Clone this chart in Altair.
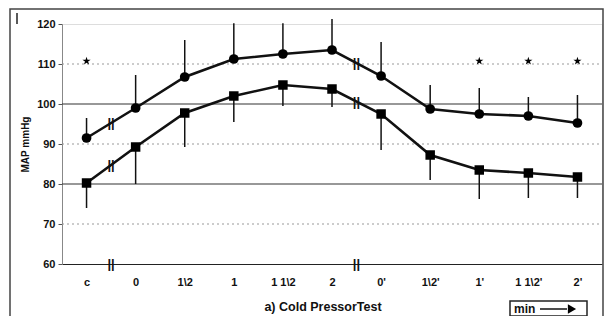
import altair as alt
import pandas as pd

cats = ["c", "0", "1\\2", "1", "1 1\\2", "2", "0'", "1\\2'", "1'", "1 1\\2'", "2'"]
map_high = [91.5, 99, 106.75, 111.25, 112.5, 113.5, 107, 98.75, 97.5, 97, 95.25]
high_err_top = [96.5, 107.25, 116, 120.2, 120.2, 121.25, 115.5, 104.75, 104, 101.75, 102.25]
map_low = [80.25, 89.25, 97.75, 102, 104.75, 103.75, 97.5, 87.25, 83.5, 82.75, 81.75]
low_err_bottom = [74, 80, 89.25, 95.5, 99.5, 99.25, 88.5, 81, 76.25, 76.5, 76.5]
star_cats = ["c", "1'", "1 1\\2'", "2'"]
star_val = [110.75, 110.75, 110.75, 110.75]
y_ticks = [60, 70, 80, 90, 100, 110, 120]
grid_light = [70, 90, 110]
grid_dark = [80, 100]
break_cats = ["c", "2"]

STAR = ("M0,-1L0.2245,-0.309L0.9511,-0.309L0.3633,0.118L0.5878,0.809L0,0.382"
        "L-0.5878,0.809L-0.3633,0.118L-0.9511,-0.309L-0.2245,-0.309Z")

df = pd.DataFrame({"cat": cats, "high": map_high, "high_top": high_err_top,
                   "low": map_low, "low_bot": low_err_bottom})

# positions of break marks on the lines (between two neighbouring points)
brk = []
for c in break_cats:
    i = cats.index(c)
    brk.append({"cat": c, "v": (map_high[i] + map_high[i + 1]) / 2})
    brk.append({"cat": c, "v": (map_low[i] + map_low[i + 1]) / 2})
    brk.append({"cat": c, "v": 60})
brk_df = pd.DataFrame(brk)

X = alt.X("cat:N", sort=cats, scale=alt.Scale(type="point", padding=0.5),
          axis=alt.Axis(title=None, labelAngle=0, ticks=False, domain=True,
                        domainColor="#222", domainWidth=1.2,
                        labelFont="Liberation Sans", labelFontWeight="bold",
                        labelFontSize=11, labelPadding=12, labelColor="#111"))

Y_AXIS = alt.Axis(title="MAP mmHg", values=y_ticks,
                  grid=False, tickSize=4, tickColor="#555", domainColor="#888",
                  labelFont="Liberation Sans", labelFontWeight="bold",
                  labelFontSize=11, labelPadding=3, labelColor="#111",
                  labelOverlap=False,
                  titleFont="Liberation Sans", titleFontWeight="bold",
                  titleFontSize=10, titlePadding=6, titleColor="#111")
Y_SCALE = alt.Scale(domain=[60, 120], nice=False, zero=False)


def Y(field):
    return alt.Y(field, scale=Y_SCALE, axis=Y_AXIS)


base = alt.Chart(df)

g1 = alt.Chart(pd.DataFrame({"g": grid_light})).mark_rule(
    color="#999", strokeDash=[2, 3], strokeWidth=1).encode(
    y=Y("g:Q"), x=alt.value(0), x2=alt.value(540))
g2 = alt.Chart(pd.DataFrame({"g": grid_dark})).mark_rule(
    color="#333", strokeWidth=1.2).encode(
    y=Y("g:Q"), x=alt.value(0), x2=alt.value(540))

err_h = base.mark_rule(color="#111", strokeWidth=1.5).encode(
    x=X, y=Y("high:Q"), y2="high_top:Q")
err_l = base.mark_rule(color="#111", strokeWidth=1.5).encode(
    x=X, y=Y("low:Q"), y2="low_bot:Q")

line_h = base.mark_line(color="#111", strokeWidth=2.6).encode(x=X, y=Y("high:Q"))
line_l = base.mark_line(color="#111", strokeWidth=2.6).encode(x=X, y=Y("low:Q"))
pt_h = base.mark_point(shape="circle", filled=True, color="#000", size=95, opacity=1).encode(x=X, y=Y("high:Q"))
pt_l = base.mark_point(shape="square", filled=True, color="#000", size=90, opacity=1).encode(x=X, y=Y("low:Q"))

stars = alt.Chart(pd.DataFrame({"cat": star_cats, "v": star_val})).mark_point(
    shape=STAR, filled=True, color="#000", size=75, opacity=1).encode(
    x=X, y=Y("v:Q"))

breaks = alt.Chart(brk_df).mark_text(
    text="||", dx=24.5, fontSize=13, fontWeight="bold", font="Liberation Sans",
    color="#111").encode(x=X, y=Y("v:Q"))

frame = alt.Chart(pd.DataFrame({"a": [0]})).mark_rect(
    fillOpacity=0, stroke="#444", strokeWidth=1.5).encode(
    x=alt.value(-52), x2=alt.value(541), y=alt.value(-15), y2=alt.value(330))
tick_tl = alt.Chart(pd.DataFrame({"a": [0]})).mark_rule(color="#222", strokeWidth=1.5).encode(
    x=alt.value(-45), y=alt.value(-11), y2=alt.value(0))

title = alt.Chart(pd.DataFrame({"t": ["a) Cold PressorTest"]})).mark_text(
    fontSize=12.5, fontWeight="bold", font="Liberation Sans", color="#111",
    align="center", baseline="middle").encode(
    text="t:N", x=alt.value(261), y=alt.value(283))

minbox = alt.Chart(pd.DataFrame({"a": [0]})).mark_rect(
    fill="white", stroke="#222", strokeWidth=1.5).encode(
    x=alt.value(448), x2=alt.value(525), y=alt.value(277), y2=alt.value(292))
mintext = alt.Chart(pd.DataFrame({"t": ["min"]})).mark_text(
    fontSize=12, fontWeight="bold", font="Liberation Sans", color="#111",
    align="left", baseline="middle").encode(text="t:N", x=alt.value(452), y=alt.value(285))
arrow_line = alt.Chart(pd.DataFrame({"a": [0]})).mark_rule(color="#111", strokeWidth=1.5).encode(
    x=alt.value(478), x2=alt.value(505), y=alt.value(285))
arrow_head = alt.Chart(pd.DataFrame({"a": [0]})).mark_point(
    shape="triangle-right", filled=True, color="#000", size=90, opacity=1).encode(
    x=alt.value(510), y=alt.value(285))

chart = alt.layer(
    g1, g2, err_h, err_l, line_h, line_l, pt_h, pt_l, stars, breaks,
    frame, tick_tl, title, minbox, mintext, arrow_line, arrow_head
).properties(
    width=540, height=240,
    padding={"left": 54, "top": 16, "right": 2, "bottom": 52},
    autosize=alt.AutoSizeParams(type="none"),
).configure_view(stroke=None).configure(background="white")

chart.save("out.html", embed_options={"renderer": "svg", "actions": False})
